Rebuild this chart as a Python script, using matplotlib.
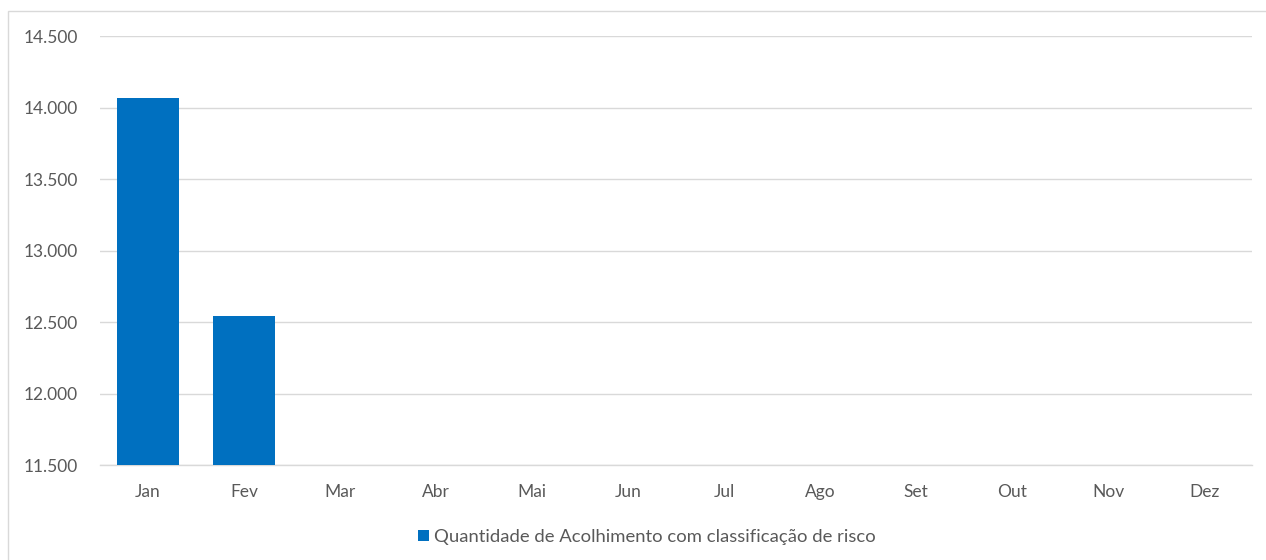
import matplotlib.pyplot as plt
from matplotlib.patches import Rectangle
import matplotlib as mpl

mpl.rcParams['font.family'] = ['Lato', 'DejaVu Sans']

# data
meses = ["Jan", "Fev", "Mar", "Abr", "Mai", "Jun", "Jul", "Ago", "Set", "Out", "Nov", "Dez"]
valores = [14066, 12542, None, None, None, None, None, None, None, None, None, None]
serie_nome = "Quantidade de Acolhimento com classificação de risco"
yticks = [11500, 12000, 12500, 13000, 13500, 14000, 14500]

cor_barra = "#0070C0"
cor_texto = "#595959"
cor_grade = "#D9D9D9"

fig = plt.figure(figsize=(12.66, 5.6), dpi=100)
ax = fig.add_axes([0.079, 0.1696, 0.910, 0.7661])

# outer chart border
fig.patches.append(Rectangle((8 / 1266, -0.1), 1.1, 1.1 - 11 / 560,
                             transform=fig.transFigure, fill=False,
                             edgecolor=cor_grade, linewidth=1.0))

xs = [i for i, v in enumerate(valores) if v is not None]
hs = [v - yticks[0] for v in valores if v is not None]
ax.bar(xs, hs, bottom=yticks[0], width=0.65, color=cor_barra, zorder=3,
       label=serie_nome)

ax.set_xlim(-0.5, len(meses) - 0.5)
ax.set_ylim(yticks[0], yticks[-1])
ax.set_xticks(range(len(meses)))
ax.set_xticklabels(meses)
ax.set_yticks(yticks)
ax.set_yticklabels([f"{t:,}".replace(",", ".") for t in yticks])
ax.tick_params(axis='both', length=0, labelsize=12.5, labelcolor=cor_texto)
ax.tick_params(axis='x', pad=14)
ax.tick_params(axis='y', pad=16)

ax.grid(axis='y', color=cor_grade, linewidth=1.0, zorder=0)
for s in ['top', 'right', 'left']:
    ax.spines[s].set_visible(False)
ax.spines['bottom'].set_color(cor_grade)
ax.spines['bottom'].set_linewidth(1.0)

leg = fig.legend(loc='center', bbox_to_anchor=(647 / 1266, 1 - 537 / 560),
                 frameon=False, fontsize=13.3, handlelength=0.6, handleheight=0.6,
                 handletextpad=0.3, labelcolor=cor_texto)

fig.savefig("out.png", dpi=100)
